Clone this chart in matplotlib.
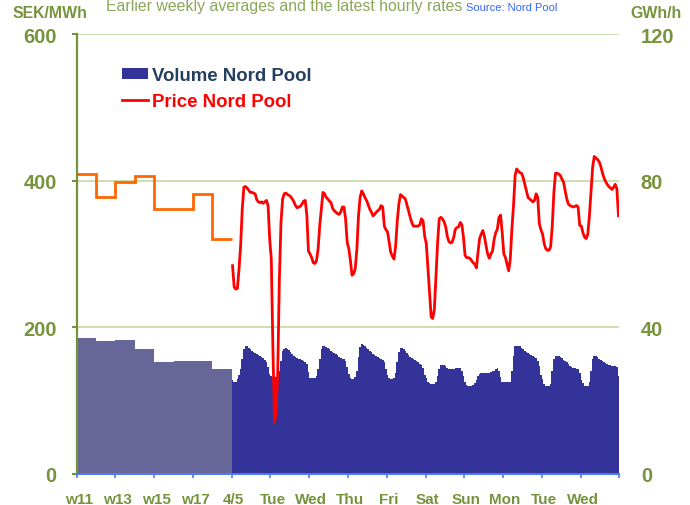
import numpy as np
import matplotlib
matplotlib.use("Agg")
import matplotlib.pyplot as plt
from matplotlib.patches import Patch
from matplotlib.lines import Line2D
from matplotlib.transforms import ScaledTranslation

plt.rcParams['font.family'] = ['Liberation Sans', 'DejaVu Sans']
plt.rcParams['font.weight'] = 'bold'

# ---------------- data ----------------
x_labels = ['w11', 'w13', 'w15', 'w17', '4/5', 'Tue', 'Wed', 'Thu', 'Fri',
            'Sat', 'Sun', 'Mon', 'Tue', 'Wed']

# weekly averages w11..w18
week_names = ['w11', 'w12', 'w13', 'w14', 'w15', 'w16', 'w17', 'w18']
week_price = [409, 378, 398, 406, 361, 361, 382, 320]          # SEK/MWh
week_volume = [37.2, 36.3, 36.6, 34.1, 30.6, 30.9, 30.9, 28.6]  # GWh/h

# hourly prices (SEK/MWh), one list per day
price_mon1 = [284, 255, 252, 253, 279, 311, 361, 391, 392, 390, 387, 384,
              384, 383, 382, 374, 371, 370, 371, 369, 371, 373, 366, 320]
price_tue1 = [293, 170, 70, 85, 140, 266, 343, 375, 382, 383, 381, 380,
              378, 375, 371, 366, 363, 364, 365, 368, 372, 373, 353, 304]
price_wed1 = [300, 295, 288, 287, 291, 307, 339, 361, 384, 382, 377, 375,
              372, 370, 362, 359, 357, 355, 354, 357, 364, 364, 348, 316]
price_thu = [307, 291, 271, 273, 280, 307, 352, 377, 386, 382, 377, 373,
             367, 361, 357, 352, 354, 357, 359, 361, 366, 364, 338, 333]
price_fri = [330, 316, 302, 297, 293, 311, 345, 368, 381, 379, 377, 375,
             367, 359, 350, 343, 338, 338, 338, 338, 340, 348, 345, 324]
price_sat = [314, 280, 248, 214, 212, 225, 270, 316, 348, 350, 348, 344,
             337, 324, 317, 315, 316, 323, 334, 336, 337, 343, 340, 323]
price_sun = [298, 295, 295, 294, 291, 288, 286, 281, 302, 321, 327, 332,
             324, 311, 300, 294, 300, 304, 320, 329, 334, 350, 353, 329]
price_mon2 = [300, 295, 286, 277, 293, 334, 366, 407, 416, 413, 411, 410,
              404, 395, 386, 377, 375, 373, 371, 373, 382, 377, 341, 333]
price_tue2 = [327, 314, 307, 305, 305, 310, 338, 384, 410, 410, 409, 407,
              402, 398, 386, 375, 368, 366, 365, 364, 365, 366, 364, 339]
price_wed2 = [338, 329, 323, 321, 327, 352, 384, 418, 433, 431, 429, 426,
              420, 411, 404, 399, 395, 392, 390, 388, 391, 395, 389, 352]

# hourly volumes (GWh/h), one list per day
vol_mon1 = [25.7, 25.2, 25.2, 25.9, 27.0, 28.6, 31.3, 34.1, 35.0, 34.8, 34.3, 34.1,
            33.6, 33.3, 33.0, 32.6, 32.3, 32.1, 31.9, 31.5, 31.2, 30.4, 29.1, 27.2]
vol_tue1 = [26.6, 26.3, 26.3, 26.3, 26.6, 28.2, 30.9, 33.6, 34.2, 34.3, 34.1, 33.7,
            33.3, 32.8, 32.2, 31.8, 31.5, 31.4, 31.3, 31.1, 30.9, 30.6, 29.9, 27.7]
vol_wed1 = [26.1, 26.1, 26.1, 26.2, 26.8, 28.6, 31.3, 34.1, 35.0, 34.9, 34.5, 34.3,
            34.0, 33.6, 33.3, 33.0, 32.7, 32.3, 32.0, 31.6, 31.4, 31.3, 30.7, 29.1]
vol_thu = [27.2, 26.2, 25.9, 25.9, 26.3, 28.2, 31.8, 34.5, 35.4, 35.1, 34.8, 34.4,
           34.1, 33.6, 33.2, 32.8, 32.5, 32.1, 31.9, 31.5, 31.3, 31.0, 30.4, 28.6]
vol_fri = [27.0, 26.1, 25.9, 25.9, 26.1, 27.5, 30.4, 33.2, 34.3, 34.3, 34.1, 33.6,
           33.0, 32.4, 31.9, 31.5, 31.3, 31.0, 30.7, 30.4, 30.1, 29.7, 28.8, 27.0]
vol_sat = [26.1, 25.2, 24.8, 24.5, 24.5, 24.5, 25.0, 26.6, 28.6, 29.7, 29.7, 29.6,
           29.3, 29.0, 28.6, 28.6, 28.6, 28.7, 28.8, 28.9, 28.9, 29.0, 28.2, 26.8]
vol_sun = [25.0, 24.3, 24.1, 24.1, 24.1, 24.3, 24.8, 25.7, 26.6, 27.2, 27.5, 27.5,
           27.4, 27.4, 27.5, 27.6, 27.7, 28.0, 28.2, 28.6, 28.9, 28.2, 26.4, 25.2]
vol_mon2 = [25.0, 25.0, 25.0, 25.0, 25.2, 28.2, 32.2, 34.8, 35.0, 34.9, 34.9, 34.4,
            34.0, 33.6, 33.2, 32.9, 32.6, 32.4, 32.1, 31.8, 31.5, 30.9, 29.5, 26.9]
vol_tue2 = [25.9, 24.5, 24.1, 23.9, 24.1, 24.5, 28.2, 31.3, 32.1, 32.2, 32.1, 31.8,
            31.5, 31.2, 30.8, 30.4, 30.0, 29.5, 29.1, 29.0, 28.8, 28.7, 28.5, 27.5]
vol_wed2 = [25.7, 24.7, 24.1, 23.9, 24.1, 25.0, 28.2, 31.3, 32.2, 32.1, 31.8, 31.3,
            31.0, 30.7, 30.4, 30.2, 30.0, 29.8, 29.7, 29.5, 29.4, 29.3, 29.1, 26.8]

hour_price = np.concatenate([price_mon1, price_tue1, price_wed1, price_thu, price_fri,
                             price_sat, price_sun, price_mon2, price_tue2, price_wed2])
hour_volume = np.concatenate([vol_mon1, vol_tue1, vol_wed1, vol_thu, vol_fri,
                              vol_sat, vol_sun, vol_mon2, vol_tue2, vol_wed2])

# ---------------- styling ----------------
OLIVE = '#77933C'
TITLE_OLIVE = '#8CA65A'
GRID = '#C6D9A2'
AXBLUE = '#4A7BF7'
VOL_HOUR = '#333399'
VOL_WEEK = '#666699'
ORANGE = '#FF6600'
RED = '#FF0000'

fig = plt.figure(figsize=(6.9, 5.06), dpi=100)
ax = fig.add_axes([0.1112, 0.0615, 0.7863, 0.8693])
ax2 = ax.twinx()
ax.set_zorder(ax2.get_zorder() + 1)
ax.patch.set_visible(False)

n_weeks = len(week_price)
week_edges = np.arange(n_weeks + 1) * 0.5
n_hours = len(hour_price)
hour_edges = 4 + np.arange(n_hours + 1) / 24.0
hour_centers = 4 + (np.arange(n_hours) + 0.5) / 24.0

# volumes on right axis
ax2.bar(week_edges[:-1], week_volume, width=0.5, align='edge', color=VOL_WEEK,
        linewidth=0)
ax2.stairs(hour_volume, hour_edges, fill=True, color=VOL_HOUR, baseline=0)
ax2.set_ylim(0, 120)
ax2.set_yticks([0, 40, 80, 120])
for s in ax2.spines.values():
    s.set_visible(False)
ax2.tick_params(axis='y', length=0, pad=15.5, labelsize=14.5, labelcolor=OLIVE)

# prices on left axis
ax.stairs(week_price, week_edges, baseline=None, color=ORANGE, linewidth=2)
ax.plot(hour_centers, hour_price, color=RED, linewidth=2)

ax.set_xlim(0, 14)
ax.set_ylim(0, 600)
ax.set_yticks([0, 200, 400, 600])
for yv in [200, 400, 600]:
    ax.axhline(yv, color=GRID, linewidth=1.2, zorder=0.5)

ax.spines['top'].set_visible(False)
ax.spines['right'].set_visible(False)
ax.spines['left'].set_color(OLIVE)
ax.spines['left'].set_linewidth(1.6)
ax.spines['bottom'].set_color(AXBLUE)
ax.spines['bottom'].set_linewidth(1.4)

ax.tick_params(axis='y', direction='out', length=3.6, width=1.5, color=OLIVE,
               labelcolor=OLIVE, labelsize=14.5, pad=10.8)
ax.set_xticks(np.arange(15))
ax.set_xticklabels(x_labels + [''])
ax.tick_params(axis='x', direction='out', length=3, width=1.2, color=AXBLUE,
               labelcolor=OLIVE, labelsize=11, pad=10)
offset = ScaledTranslation(2 / 100, 0, fig.dpi_scale_trans)
for lbl in ax.get_xticklabels():
    lbl.set_transform(lbl.get_transform() + offset)

# legend
handles = [Patch(facecolor=VOL_HOUR, edgecolor='none'),
           Line2D([], [], color=RED, linewidth=2)]
leg = ax.legend(handles, ['Volume Nord Pool', 'Price Nord Pool'],
                loc='upper left', bbox_to_anchor=(0.0834, 0.9255),
                frameon=False, borderpad=0, borderaxespad=0,
                handlelength=1.4, handleheight=0.55, handletextpad=0.22,
                labelspacing=0.5, prop={'size': 13.4, 'weight': 'bold'})
leg.get_texts()[0].set_color('#243F60')
leg.get_texts()[1].set_color(RED)

# titles / axis unit labels
fig.text(106 / 690, 1 - 11.5 / 506, 'Earlier weekly averages and the latest hourly rates',
         fontsize=11.4, fontweight='normal', color=TITLE_OLIVE, va='baseline', ha='left')
fig.text(466 / 690, 1 - 11.0 / 506, 'Source: Nord Pool', fontsize=8,
         fontweight='normal', color='#3366FF', va='baseline', ha='left')
fig.text(50 / 690, 1 - 18 / 506, 'SEK/MWh', fontsize=11.4, color=OLIVE,
         va='baseline', ha='center')
fig.text(656 / 690, 1 - 18 / 506, 'GWh/h', fontsize=11.4, color=OLIVE,
         va='baseline', ha='center')

fig.savefig('out.png', dpi=100)
